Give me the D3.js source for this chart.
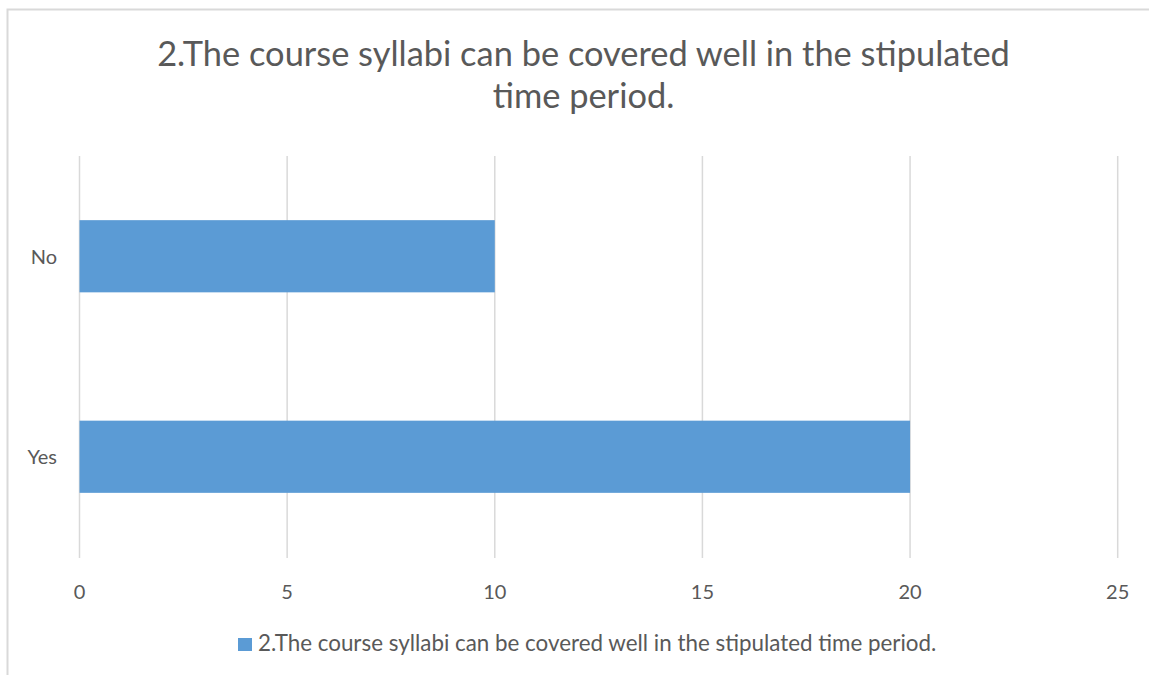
<!DOCTYPE html>
<html><head><meta charset="utf-8">
<script src="https://cdn.jsdelivr.net/npm/d3@7"></script>
<style>html,body{margin:0;padding:0;background:#fff;overflow:hidden}</style>
</head><body>
<svg id="c" width="1149" height="675"></svg>
<script>
const categories = ["No", "Yes"];
const values = [10, 20];
const xTicks = [0, 5, 10, 15, 20, 25];
const titleLines = ["2.The course syllabi can be covered well in the stipulated", "time period."];
const seriesName = "2.The course syllabi can be covered well in the stipulated time period.";

const FONT = "Lato, 'Open Sans', sans-serif";
const TXT = "#595959";
const svg = d3.select("#c");
svg.append("rect").attr("x", 7.5).attr("y", 9.5).attr("width", 1160).attr("height", 700)
  .attr("fill", "#fff").attr("stroke", "#D9D9D9").attr("stroke-width", 2);

const x = d3.scaleLinear().domain([0, 25]).range([79.5, 1117.7]);
const y = d3.scaleBand().domain(categories).range([156, 557]).paddingInner(0.64).paddingOuter(0.32);

function fit(t, w, size) {
  t.attr("font-size", size);
  const L = t.node().getComputedTextLength();
  t.attr("font-size", size * w / L);
}

// grid
svg.append("g").selectAll("line").data(xTicks).join("line")
  .attr("x1", d => x(d)).attr("x2", d => x(d)).attr("y1", 156).attr("y2", 558)
  .attr("stroke", "#D9D9D9").attr("stroke-width", 1.5);

// bars
svg.append("g").selectAll("rect").data(categories).join("rect")
  .attr("x", x(0)).attr("y", d => y(d)).attr("height", y.bandwidth())
  .attr("width", (d, i) => x(values[i]) - x(0)).attr("fill", "#5B9BD5");

// x tick labels
svg.append("g").selectAll("text").data(xTicks).join("text")
  .attr("x", d => x(d)).attr("y", 599).attr("text-anchor", "middle")
  .attr("font-family", FONT).attr("font-size", 20).attr("fill", TXT).text(d => d);

// category labels
svg.append("g").selectAll("text").data(categories).join("text")
  .attr("x", 57).attr("y", d => y(d) + y.bandwidth() / 2 + 7.5).attr("text-anchor", "end")
  .attr("font-family", FONT).attr("font-size", 20).attr("fill", TXT).text(d => d);

// title
const t1 = svg.append("text").attr("x", 583.5).attr("y", 66).attr("text-anchor", "middle")
  .attr("font-family", FONT).attr("fill", TXT).text(titleLines[0]);
fit(t1, 853, 33);
const fs = +t1.attr("font-size");
svg.append("text").attr("x", 583.5).attr("y", 108).attr("text-anchor", "middle")
  .attr("font-family", FONT).attr("font-size", fs).attr("fill", TXT).text(titleLines[1]);

// legend
svg.append("rect").attr("x", 238).attr("y", 638).attr("width", 14).attr("height", 13).attr("fill", "#5B9BD5");
const lt = svg.append("text").attr("x", 258).attr("y", 651).attr("font-family", FONT)
  .attr("fill", TXT).text(seriesName);
fit(lt, 679, 18);
</script>
</body></html>
